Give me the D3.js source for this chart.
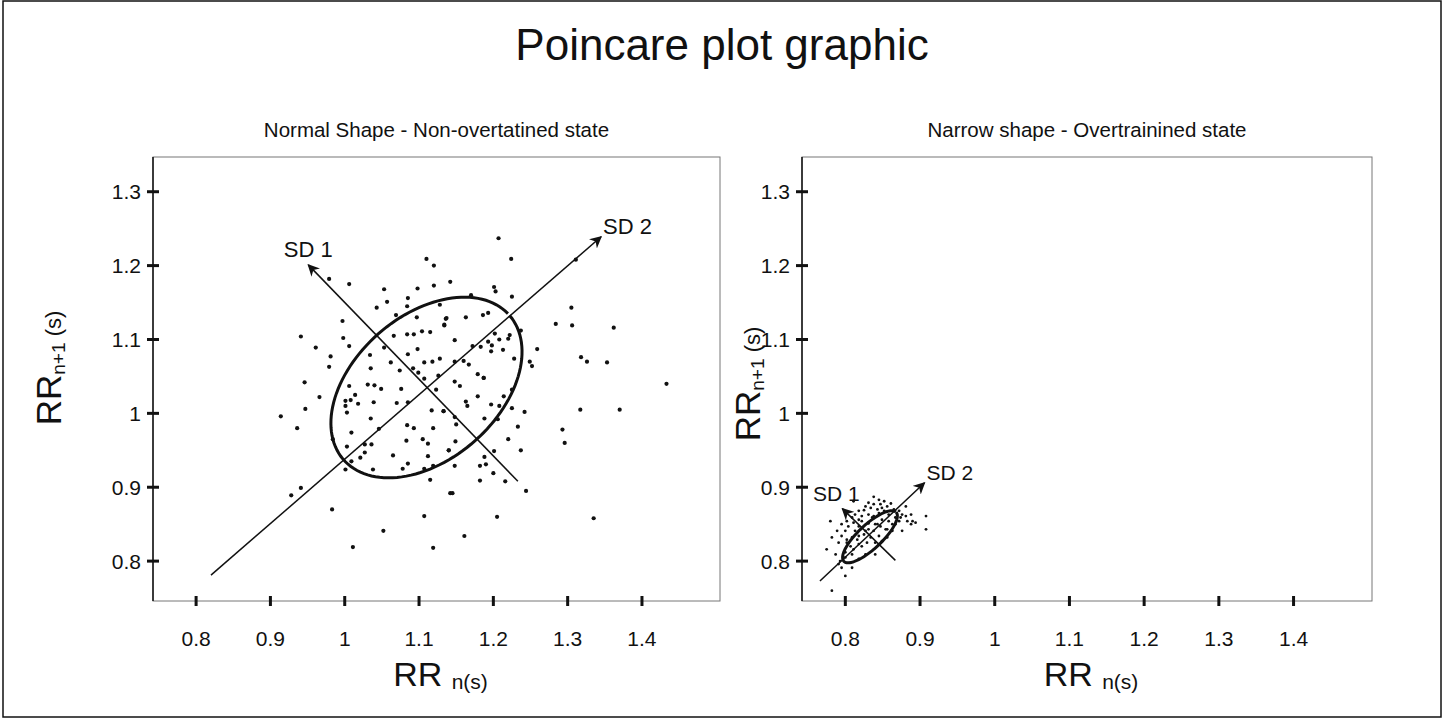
<!DOCTYPE html>
<html>
<head>
<meta charset="utf-8">
<script src="https://cdn.jsdelivr.net/npm/d3@7"></script>
<style>
  body { margin: 0; background: #fff; }
  text { font-family: "Liberation Sans", Arial, sans-serif; fill: #111; }
</style>
</head>
<body>
<svg width="1445" height="719"></svg>
<script>
// tick values shared by both panels
const xTicks = [0.8, 0.9, 1, 1.1, 1.2, 1.3, 1.4];
const yTicks = [0.8, 0.9, 1, 1.1, 1.2, 1.3];

// left panel : normal shape (RRn, RRn+1)
const normalX = [1.110,1.120,0.979,1.006,1.053,1.098,1.120,1.085,1.057,1.084,1.043,1.128,1.069,1.097,0.997,1.136,1.134,1.084,1.093,1.104,1.115,1.066,0.941,0.998,0.961,1.006,1.053,1.098,0.981,1.034,1.085,0.979,1.035,1.062,1.107,1.118,1.074,1.092,1.128,
  0.946,0.966,0.947,0.914,0.936,1.006,1.031,1.040,1.049,1.076,1.099,1.107,1.123,1.126,1.001,1.008,1.014,1.018,1.001,1.003,1.039,1.070,1.085,1.035,1.117,1.133,1.119,1.009,1.046,1.084,1.093,0.984,1.003,1.027,1.036,1.083,1.105,1.112,1.140,1.009,1.021,1.027,1.038,1.001,1.065,1.085,1.078,1.112,1.119,1.107,1.115,0.941,0.928,0.983,1.052,1.107,1.011,1.119,1.142,
  1.207,1.224,1.142,1.201,1.203,1.225,1.170,1.311,1.305,1.284,1.306,1.362,1.259,1.318,1.326,1.353,1.137,1.163,1.134,1.186,1.193,1.148,1.172,1.183,1.193,1.198,1.202,1.208,1.213,1.197,1.222,1.220,1.237,1.228,1.249,1.252,1.160,1.167,1.148,1.179,1.187,
  1.148,1.155,1.187,1.179,1.214,1.225,1.163,1.165,1.197,1.208,1.225,1.242,1.133,1.148,1.188,1.206,1.233,1.150,1.220,1.149,1.140,1.201,1.237,1.188,1.148,1.182,1.190,1.200,1.182,1.216,1.145,1.244,1.205,1.161,1.317,1.370,1.293,1.296,1.335,1.433];
const normalY = [1.209,1.200,1.182,1.175,1.168,1.169,1.173,1.156,1.151,1.145,1.143,1.147,1.133,1.130,1.125,1.128,1.119,1.107,1.107,1.111,1.110,1.105,1.104,1.102,1.089,1.091,1.089,1.087,1.077,1.079,1.080,1.063,1.061,1.069,1.069,1.070,1.058,1.061,1.074,
  1.042,1.022,1.006,0.996,0.980,1.037,1.039,1.038,1.033,1.033,1.055,1.047,1.032,1.051,1.017,1.018,1.025,1.013,1.010,1.001,1.015,1.014,1.015,0.993,1.004,1.003,0.980,0.974,0.979,0.984,0.980,0.965,0.955,0.958,0.958,0.963,0.965,0.959,0.950,0.935,0.940,0.947,0.924,0.924,0.943,0.932,0.925,0.942,0.929,0.925,0.910,0.899,0.889,0.870,0.841,0.861,0.819,0.818,0.892,
  1.237,1.209,1.178,1.171,1.165,1.158,1.160,1.208,1.143,1.121,1.119,1.116,1.087,1.076,1.070,1.069,1.129,1.130,1.120,1.133,1.136,1.099,1.091,1.090,1.097,1.092,1.108,1.100,1.086,1.084,1.106,1.101,1.112,1.074,1.070,1.064,1.071,1.066,1.070,1.053,1.048,
  1.043,1.037,1.048,1.023,1.023,1.032,1.016,1.010,1.012,1.010,1.007,1.002,1.003,0.995,0.993,0.992,0.982,0.985,0.965,0.962,0.950,0.949,0.950,0.941,0.929,0.929,0.931,0.919,0.909,0.908,0.892,0.895,0.860,0.834,1.005,1.005,0.978,0.960,0.858,1.040];

// right panel : narrow shape
const narrowX = [0.838,0.845,0.852,0.831,0.838,0.847,0.856,0.861,0.827,0.834,0.843,0.818,0.825,0.852,0.865,0.872,0.813,0.822,0.831,0.858,0.876,0.809,0.818,0.836,0.874,0.881,0.802,0.811,0.822,0.831,0.872,0.883,0.888,0.795,0.804,0.818,0.843,0.867,0.789,0.800,0.813,0.827,0.838,0.854,0.863,0.876,0.782,0.795,0.809,0.818,0.834,0.845,0.856,0.791,0.802,0.818,0.840,0.849,0.787,0.800,0.809,0.827,0.840,0.793,0.807,0.818,0.795,0.809,0.800,0.782,0.908,0.908,0.780,0.811,0.881,0.894,
  0.807,0.816,0.825,0.831,0.840,0.849,0.858,0.847,0.829,0.822,0.811,0.800,0.791,0.867,0.863,0.856,0.838,0.845,0.849,0.888,0.890,0.802,0.775];
const narrowY = [0.887,0.883,0.881,0.879,0.877,0.877,0.874,0.878,0.874,0.872,0.870,0.868,0.869,0.868,0.870,0.868,0.863,0.861,0.863,0.863,0.863,0.859,0.856,0.859,0.859,0.861,0.854,0.852,0.854,0.851,0.854,0.854,0.850,0.850,0.847,0.847,0.850,0.850,0.841,0.841,0.841,0.841,0.841,0.843,0.841,0.841,0.832,0.834,0.832,0.834,0.832,0.834,0.832,0.825,0.825,0.823,0.825,0.827,0.809,0.812,0.809,0.809,0.809,0.800,0.798,0.803,0.791,0.791,0.780,0.760,0.861,0.843,0.854,0.881,0.874,0.852,
  0.820,0.829,0.836,0.843,0.850,0.856,0.854,0.847,0.825,0.820,0.816,0.805,0.796,0.859,0.850,0.843,0.861,0.865,0.872,0.863,0.854,0.829,0.816];

// ellipses and SD axes
const normalShape = { cx: 1.11, cy: 1.035, a: 0.148, b: 0.097,
  sd1: [[1.233, 0.908], [0.951, 1.201]], sd2: [[0.820, 0.781], [1.345, 1.239]] };
const narrowShape = { cx: 0.833, cy: 0.833, a: 0.048, b: 0.016,
  sd1: [[0.867, 0.801], [0.796, 0.871]], sd2: [[0.766, 0.773], [0.906, 0.906]] };

const svg = d3.select("svg");

// outer frame
svg.append("rect").attr("x", 3).attr("y", 1).attr("width", 1438).attr("height", 716)
  .attr("fill", "none").attr("stroke", "#111").attr("stroke-width", 1.5);

svg.append("text").attr("x", 722).attr("y", 60).attr("text-anchor", "middle")
  .style("font-size", "44px").text("Poincare plot graphic");

svg.append("defs").append("marker")
  .attr("id", "arrow").attr("viewBox", "0 0 10 10").attr("refX", 9).attr("refY", 5)
  .attr("markerWidth", 8).attr("markerHeight", 8).attr("orient", "auto")
  .append("path").attr("d", "M0,0 L10,5 L0,10 L3,5 Z").attr("fill", "#111");

function drawPanel(left, right, title, xs, ys, shape, opts) {
  const x = d3.scaleLinear().domain([0.742, 1.505]).range([left, right]);
  const y = d3.scaleLinear().domain([0.746, 1.347]).range([601, 157]);
  const g = svg.append("g");

  g.append("text").attr("x", (left + right) / 2).attr("y", 137).attr("text-anchor", "middle")
    .style("font-size", "20.5px").text(title);

  g.append("rect").attr("x", left).attr("y", 157).attr("width", right - left).attr("height", 444)
    .attr("fill", "none").attr("stroke", "#777").attr("stroke-width", 1);
  g.append("line").attr("x1", left).attr("x2", left).attr("y1", 157).attr("y2", 601)
    .attr("stroke", "#111").attr("stroke-width", 1.5);

  // ticks
  g.selectAll(".yt").data(yTicks).join("line")
    .attr("x1", left - 6).attr("x2", left + 6)
    .attr("y1", d => y(d)).attr("y2", d => y(d))
    .attr("stroke", "#111").attr("stroke-width", 3);
  g.selectAll(".yl").data(yTicks).join("text")
    .attr("x", left - 12).attr("y", d => y(d) + 7.5).attr("text-anchor", "end")
    .style("font-size", "21px").text(d => d3.format("~g")(d));
  g.selectAll(".xt").data(xTicks).join("line")
    .attr("y1", 596).attr("y2", 606)
    .attr("x1", d => x(d)).attr("x2", d => x(d))
    .attr("stroke", "#111").attr("stroke-width", 3);
  g.selectAll(".xl").data(xTicks).join("text")
    .attr("y", 646).attr("x", d => x(d)).attr("text-anchor", "middle")
    .style("font-size", "21px").text(d => d3.format("~g")(d));

  // axis titles
  const xt = g.append("text").attr("x", (left + right) / 2 + 4).attr("y", 686).attr("text-anchor", "middle");
  xt.append("tspan").style("font-size", "34px").text("RR ");
  xt.append("tspan").style("font-size", "21px").attr("dy", 3).text("n(s)");

  const yt = g.append("text").attr("transform", `translate(${left - opts.yOff},${opts.yMid}) rotate(-90)`)
    .attr("text-anchor", "middle");
  yt.append("tspan").style("font-size", "35px").text("RR");
  yt.append("tspan").style("font-size", "19px").attr("dy", 4).text("n+1");
  yt.append("tspan").style("font-size", "22px").attr("dy", -4).text(" (s)");

  // points
  g.selectAll(".pt").data(xs).join("circle")
    .attr("cx", d => x(d)).attr("cy", (d, i) => y(ys[i])).attr("r", opts.r).attr("fill", "#111");

  // ellipse, built in pixel space along the SD2 direction
  const c = [x(shape.cx), y(shape.cy)];
  const ux = x(shape.sd2[1][0]) - x(shape.sd2[0][0]);
  const uy = y(shape.sd2[1][1]) - y(shape.sd2[0][1]);
  const ang = Math.atan2(uy, ux);
  const pa = x(shape.cx + shape.a) - x(shape.cx);
  const pb = x(shape.cx + shape.b) - x(shape.cx);
  const pts = d3.range(0, 2 * Math.PI + 0.01, 0.05).map(t => {
    const ex = pa * Math.cos(t), ey = pb * Math.sin(t);
    return [c[0] + ex * Math.cos(ang) - ey * Math.sin(ang), c[1] + ex * Math.sin(ang) + ey * Math.cos(ang)];
  });
  g.append("path").attr("d", d3.line()(pts)).attr("fill", "none")
    .attr("stroke", "#111").attr("stroke-width", 3);

  // SD axes
  [shape.sd1, shape.sd2].forEach(s => {
    g.append("line")
      .attr("x1", x(s[0][0])).attr("y1", y(s[0][1]))
      .attr("x2", x(s[1][0])).attr("y2", y(s[1][1]))
      .attr("stroke", "#111").attr("stroke-width", 1.5).attr("marker-end", "url(#arrow)");
  });
  g.append("text").attr("x", x(shape.sd1[1][0]) + opts.sd1dx).attr("y", y(shape.sd1[1][1]) - 8)
    .attr("text-anchor", "middle").style("font-size", opts.fs).text("SD 1");
  g.append("text").attr("x", x(shape.sd2[1][0]) + 2).attr("y", y(shape.sd2[1][1]) - 3)
    .style("font-size", opts.fs).text("SD 2");
}

drawPanel(153, 720, "Normal Shape - Non-overtatined state", normalX, normalY, normalShape,
  { r: 2.1, yOff: 92, yMid: 368, fs: "22px", sd1dx: 0 });
drawPanel(802, 1372, "Narrow shape - Overtrainined state", narrowX, narrowY, narrowShape,
  { r: 1.4, yOff: 42, yMid: 384, fs: "21px", sd1dx: -6 });
</script>
</body>
</html>
